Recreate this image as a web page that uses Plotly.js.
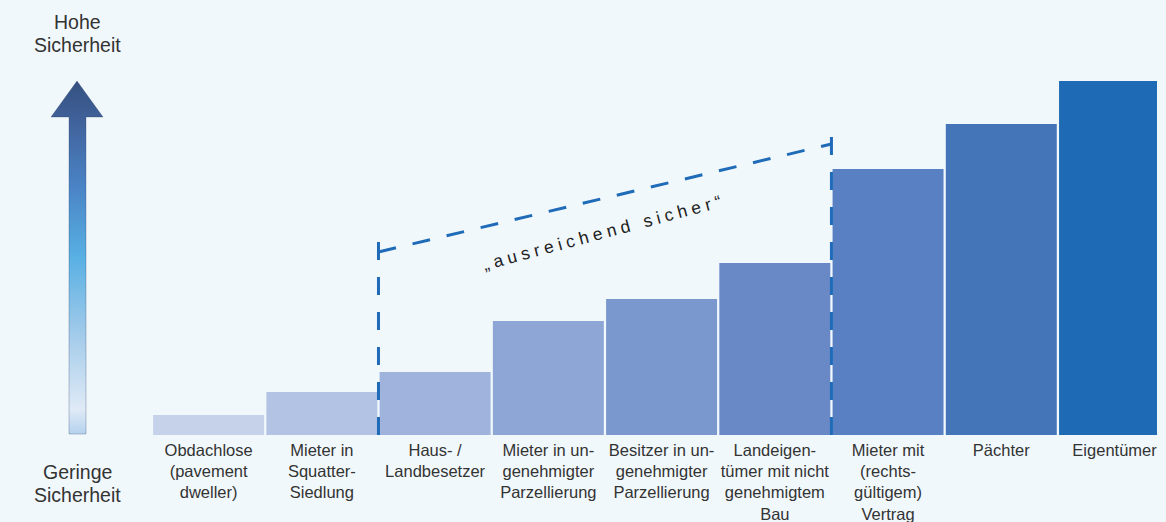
<!DOCTYPE html>
<html>
<head>
<meta charset="utf-8">
<script src="https://cdn.plot.ly/plotly-3.0.1.min.js"></script>
<style>
  html, body { margin: 0; padding: 0; background: #f1f8fc; }
  #chart { width: 1166px; height: 522px; }
  .annotation[data-index="4"] text { letter-spacing: 4.6px; }
</style>
</head>
<body>
<div id="chart"></div>
<script>
// ---- data ----
const categories = [
  "Obdachlose<br>(pavement<br>dweller)",
  "Mieter in<br>Squatter-<br>Siedlung",
  "Haus- /<br>Landbesetzer",
  "Mieter in un-<br>genehmigter<br>Parzellierung",
  "Besitzer in un-<br>genehmigter<br>Parzellierung",
  "Landeigen-<br>tümer mit nicht<br>genehmigtem<br>Bau",
  "Mieter mit<br>(rechts-<br>gültigem)<br>Vertrag",
  "Pächter",
  "Eigentümer"
];
const security = [20, 43, 63, 114, 136, 172, 266, 311, 354];
const barColors = ["#c5d2ea", "#b2c3e4", "#9fb3dd", "#8ea6d6", "#7b98ce",
                   "#6888c6", "#5880c2", "#4475b9", "#1e6ab4"];

const topLabelLines = ["Hohe", "Sicherheit"];
const bottomLabelLines = ["Geringe", "Sicherheit"];
const bracketLabel = "„ausreichend sicher“";

// bracket: "sufficiently secure" spans category boundaries 1.5 .. 5.5
const bracketFrom = 1.5, bracketTo = 5.5;
const bracketLeftY = 183, bracketRightY = 291;
const bracketLeftTop = 193, bracketRightTop = 302;

// decorative arrow outline (xaxis2 pixel-like units, y on value axis)
const arrowX = [69, 86, 86, 103, 77, 51, 69, 69];
const arrowY = [1, 1, 318, 318, 354, 318, 318, 1];

const font = "Liberation Sans, Arial, Helvetica, sans-serif";
const txt = "#333333";
const blue = "#1f6bb8";

const traces = [
  {
    type: "bar",
    x: categories,
    y: security,
    marker: { color: barColors, line: { width: 0 } },
    hoverinfo: "skip"
  },
  {
    type: "scatter",
    x: arrowX,
    y: arrowY,
    xaxis: "x2",
    yaxis: "y",
    mode: "lines",
    line: { width: 0.6, color: "rgba(40,60,100,0.5)" },
    fill: "toself",
    fillgradient: {
      type: "vertical",
      colorscale: [
        [0, "#b5d2ee"],
        [0.07, "#dfeaf6"],
        [0.28, "#a3cbea"],
        [0.5, "#58b0e3"],
        [0.7, "#4a84c6"],
        [0.88, "#41639c"],
        [1, "#34507f"]
      ]
    },
    hoverinfo: "skip",
    showlegend: false
  }
];

const sideFont = { family: font, size: 19.5, color: txt };
function sideLabel(text, py) {
  return { text: text, xref: "paper", yref: "paper", x: 77 / 1157, y: (435 - py) / 435,
           xanchor: "center", yanchor: "middle", showarrow: false, font: sideFont };
}

const dash = "18px,17px";
const layout = {
  width: 1166,
  height: 522,
  margin: { l: 0, r: 9, t: 0, b: 87 },
  paper_bgcolor: "#f1f8fc",
  plot_bgcolor: "rgba(0,0,0,0)",
  showlegend: false,
  bargap: 0.02,
  font: { family: font, size: 17, color: txt },
  xaxis: {
    domain: [152 / 1157, 1],
    type: "category",
    range: [-0.5, 8.375],
    showgrid: false, zeroline: false, showline: false,
    ticks: "",
    ticklabelstandoff: 3,
    tickfont: { family: font, size: 16.5, color: txt },
    fixedrange: true
  },
  xaxis2: {
    domain: [0, 152 / 1157],
    range: [0, 152],
    visible: false,
    fixedrange: true
  },
  yaxis: {
    range: [0, 435],
    visible: false,
    fixedrange: true
  },
  shapes: [
    { type: "line", xref: "x", yref: "y", x0: bracketFrom, x1: bracketFrom, y0: 0, y1: bracketLeftTop,
      line: { color: blue, width: 3, dash: dash }, layer: "above" },
    { type: "line", xref: "x", yref: "y", x0: bracketTo, x1: bracketTo, y0: 0, y1: bracketRightTop,
      line: { color: blue, width: 3, dash: dash }, layer: "above" },
    { type: "line", xref: "x", yref: "y", x0: bracketFrom, x1: bracketTo, y0: bracketLeftY, y1: bracketRightY,
      line: { color: blue, width: 3, dash: dash }, layer: "above" }
  ],
  annotations: [
    sideLabel(topLabelLines[0], 22),
    sideLabel(topLabelLines[1], 45),
    sideLabel(bottomLabelLines[0], 472),
    sideLabel(bottomLabelLines[1], 495),
    { text: bracketLabel, xref: "x", yref: "y", x: 3.5, y: 203,
      xanchor: "center", yanchor: "middle", showarrow: false, textangle: -15,
      font: { family: font, size: 17.5, color: "#222222" } }
  ]
};

Plotly.newPlot("chart", traces, layout, { displayModeBar: false, staticPlot: true });
</script>
</body>
</html>
